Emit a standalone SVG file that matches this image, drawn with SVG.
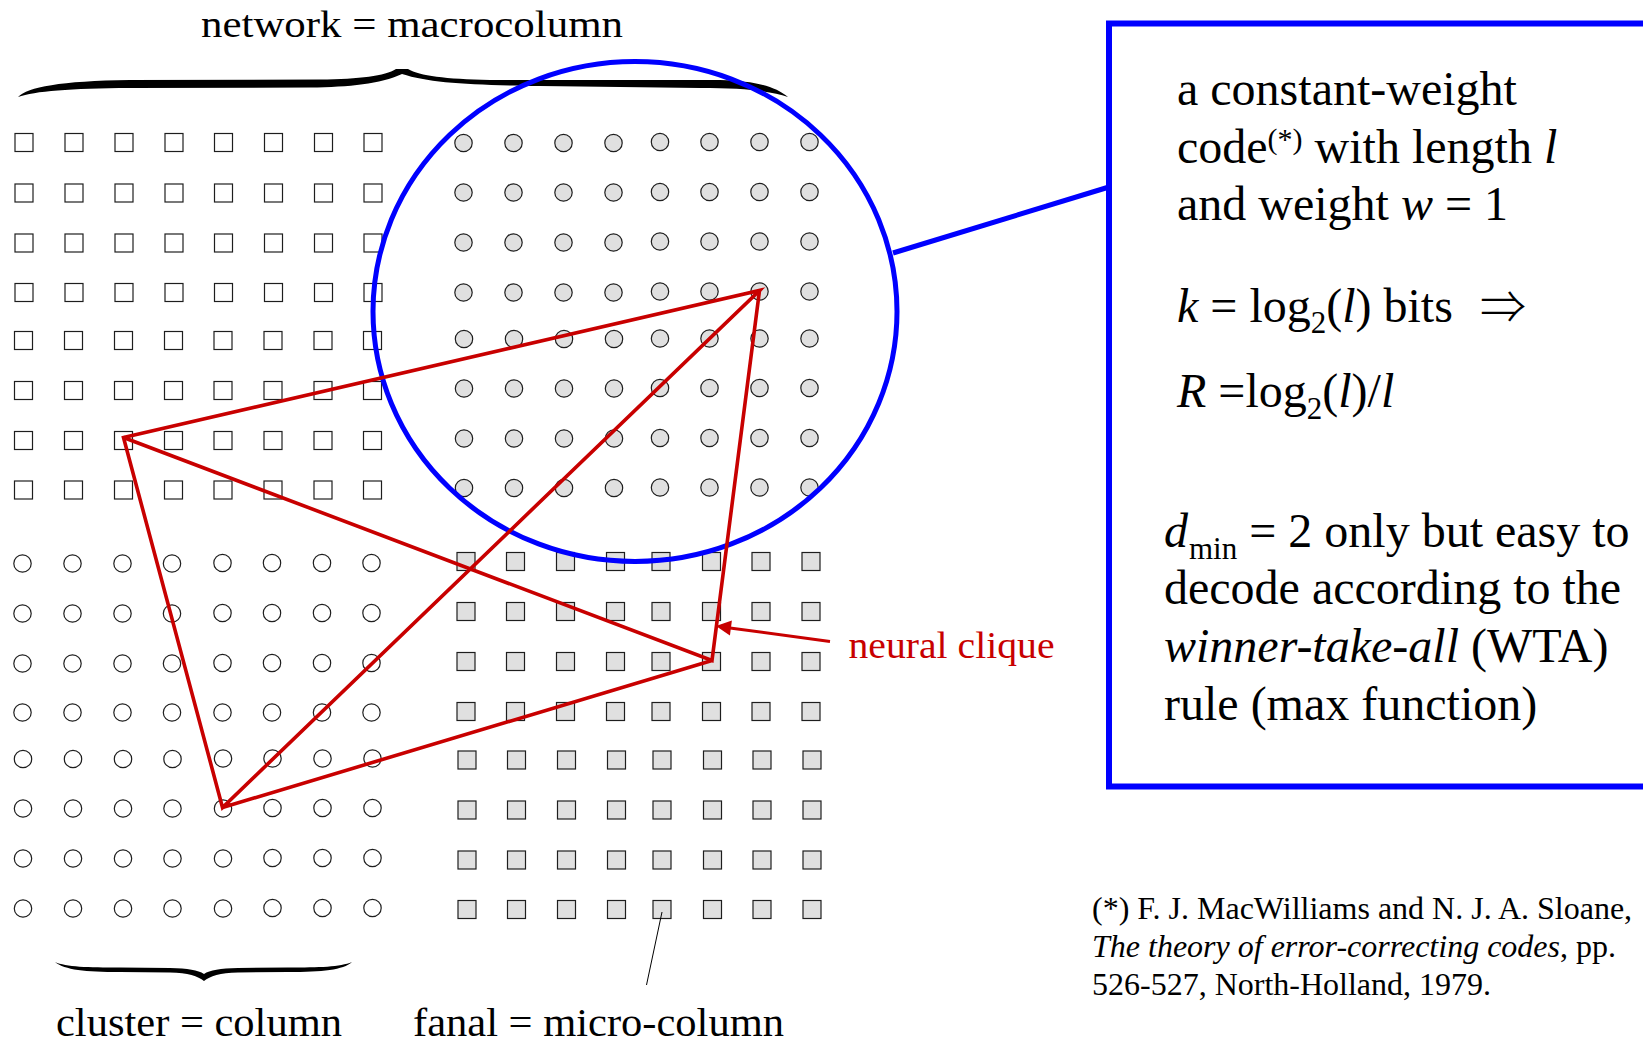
<svg xmlns="http://www.w3.org/2000/svg" width="1643" height="1042" viewBox="0 0 1643 1042">
<style>
.n{stroke:#1e1e1e;stroke-width:1.2}
.w{fill:#ffffff}
.g{fill:#e0e0e0}
.t{font-family:"Liberation Serif","Times New Roman","DejaVu Serif",serif;fill:#000}
.i{font-style:italic}
.arr{font-family:"Noto Sans CJK JP","Noto Sans CJK SC","DejaVu Sans",sans-serif;font-weight:300}
.red{fill:#c80000}
.clique{stroke:#c80000;stroke-width:3.6;fill:none;stroke-linejoin:miter}
.blue{stroke:#0000ff;fill:none}
.brace{fill:#000}
</style>
<rect x="0" y="0" width="1643" height="1042" fill="#ffffff"/>

<g id="label-network">
<text class="t" x="201" y="37" font-size="38" textLength="422" lengthAdjust="spacingAndGlyphs">network = macrocolumn</text>
<path class="brace" d="M18,97 C28,87 60,81 130,80 L320,79.5 C360,79 385,76 396,69 L408,69 C420,76 445,79 490,80 L720,80 C755,81 775,86 788,97 C770,91 745,88 700,88 L540,86 C470,85 430,83 402,74 C380,84 350,87 310,87.5 L130,88 C70,88.5 35,91 18,97 Z"/>
</g>

<g id="cluster-1">
<rect class="n w" x="15" y="133.5" width="18" height="18"/><rect class="n w" x="65" y="133.5" width="18" height="18"/><rect class="n w" x="115" y="133.5" width="18" height="18"/><rect class="n w" x="165" y="133.5" width="18" height="18"/><rect class="n w" x="214.5" y="133.5" width="18" height="18"/><rect class="n w" x="264.5" y="133.5" width="18" height="18"/><rect class="n w" x="314.5" y="133.5" width="18" height="18"/><rect class="n w" x="364" y="133.5" width="18" height="18"/>
<rect class="n w" x="15" y="184" width="18" height="18"/><rect class="n w" x="65" y="184" width="18" height="18"/><rect class="n w" x="115" y="184" width="18" height="18"/><rect class="n w" x="165" y="184" width="18" height="18"/><rect class="n w" x="214.5" y="184" width="18" height="18"/><rect class="n w" x="264.5" y="184" width="18" height="18"/><rect class="n w" x="314.5" y="184" width="18" height="18"/><rect class="n w" x="364" y="184" width="18" height="18"/>
<rect class="n w" x="15" y="234" width="18" height="18"/><rect class="n w" x="65" y="234" width="18" height="18"/><rect class="n w" x="115" y="234" width="18" height="18"/><rect class="n w" x="165" y="234" width="18" height="18"/><rect class="n w" x="214.5" y="234" width="18" height="18"/><rect class="n w" x="264.5" y="234" width="18" height="18"/><rect class="n w" x="314.5" y="234" width="18" height="18"/><rect class="n w" x="364" y="234" width="18" height="18"/>
<rect class="n w" x="15" y="283.5" width="18" height="18"/><rect class="n w" x="65" y="283.5" width="18" height="18"/><rect class="n w" x="115" y="283.5" width="18" height="18"/><rect class="n w" x="165" y="283.5" width="18" height="18"/><rect class="n w" x="214.5" y="283.5" width="18" height="18"/><rect class="n w" x="264.5" y="283.5" width="18" height="18"/><rect class="n w" x="314.5" y="283.5" width="18" height="18"/><rect class="n w" x="364" y="283.5" width="18" height="18"/>
<rect class="n w" x="14.5" y="331.5" width="18" height="18"/><rect class="n w" x="64.5" y="331.5" width="18" height="18"/><rect class="n w" x="114.5" y="331.5" width="18" height="18"/><rect class="n w" x="164.5" y="331.5" width="18" height="18"/><rect class="n w" x="214" y="331.5" width="18" height="18"/><rect class="n w" x="264" y="331.5" width="18" height="18"/><rect class="n w" x="314" y="331.5" width="18" height="18"/><rect class="n w" x="363.5" y="331.5" width="18" height="18"/>
<rect class="n w" x="14.5" y="381.5" width="18" height="18"/><rect class="n w" x="64.5" y="381.5" width="18" height="18"/><rect class="n w" x="114.5" y="381.5" width="18" height="18"/><rect class="n w" x="164.5" y="381.5" width="18" height="18"/><rect class="n w" x="214" y="381.5" width="18" height="18"/><rect class="n w" x="264" y="381.5" width="18" height="18"/><rect class="n w" x="314" y="381.5" width="18" height="18"/><rect class="n w" x="363.5" y="381.5" width="18" height="18"/>
<rect class="n w" x="14.5" y="431.5" width="18" height="18"/><rect class="n w" x="64.5" y="431.5" width="18" height="18"/><rect class="n w" x="114.5" y="431.5" width="18" height="18"/><rect class="n w" x="164.5" y="431.5" width="18" height="18"/><rect class="n w" x="214" y="431.5" width="18" height="18"/><rect class="n w" x="264" y="431.5" width="18" height="18"/><rect class="n w" x="314" y="431.5" width="18" height="18"/><rect class="n w" x="363.5" y="431.5" width="18" height="18"/>
<rect class="n w" x="14.5" y="481" width="18" height="18"/><rect class="n w" x="64.5" y="481" width="18" height="18"/><rect class="n w" x="114.5" y="481" width="18" height="18"/><rect class="n w" x="164.5" y="481" width="18" height="18"/><rect class="n w" x="214" y="481" width="18" height="18"/><rect class="n w" x="264" y="481" width="18" height="18"/><rect class="n w" x="314" y="481" width="18" height="18"/><rect class="n w" x="363.5" y="481" width="18" height="18"/>
</g>

<g id="cluster-2">
<circle class="n g" cx="463.5" cy="143" r="8.7"/><circle class="n g" cx="513.5" cy="143" r="8.7"/><circle class="n g" cx="563.5" cy="143" r="8.7"/><circle class="n g" cx="613.5" cy="143" r="8.7"/><circle class="n g" cx="660" cy="142" r="8.7"/><circle class="n g" cx="709.5" cy="142" r="8.7"/><circle class="n g" cx="759.5" cy="142" r="8.7"/><circle class="n g" cx="809.5" cy="142" r="8.7"/>
<circle class="n g" cx="463.5" cy="192.5" r="8.7"/><circle class="n g" cx="513.5" cy="192.5" r="8.7"/><circle class="n g" cx="563.5" cy="192.5" r="8.7"/><circle class="n g" cx="613.5" cy="192.5" r="8.7"/><circle class="n g" cx="660" cy="192" r="8.7"/><circle class="n g" cx="709.5" cy="192" r="8.7"/><circle class="n g" cx="759.5" cy="192" r="8.7"/><circle class="n g" cx="809.5" cy="192" r="8.7"/>
<circle class="n g" cx="463.5" cy="242.5" r="8.7"/><circle class="n g" cx="513.5" cy="242.5" r="8.7"/><circle class="n g" cx="563.5" cy="242.5" r="8.7"/><circle class="n g" cx="613.5" cy="242.5" r="8.7"/><circle class="n g" cx="660" cy="241.5" r="8.7"/><circle class="n g" cx="709.5" cy="241.5" r="8.7"/><circle class="n g" cx="759.5" cy="241.5" r="8.7"/><circle class="n g" cx="809.5" cy="241.5" r="8.7"/>
<circle class="n g" cx="463.5" cy="292.5" r="8.7"/><circle class="n g" cx="513.5" cy="292.5" r="8.7"/><circle class="n g" cx="563.5" cy="292.5" r="8.7"/><circle class="n g" cx="613.5" cy="292.5" r="8.7"/><circle class="n g" cx="660" cy="291.5" r="8.7"/><circle class="n g" cx="709.5" cy="291.5" r="8.7"/><circle class="n g" cx="759.5" cy="291.5" r="8.7"/><circle class="n g" cx="809.5" cy="291.5" r="8.7"/>
<circle class="n g" cx="464" cy="339" r="8.7"/><circle class="n g" cx="514" cy="339" r="8.7"/><circle class="n g" cx="564" cy="339" r="8.7"/><circle class="n g" cx="614" cy="339" r="8.7"/><circle class="n g" cx="660" cy="338.5" r="8.7"/><circle class="n g" cx="709.5" cy="338.5" r="8.7"/><circle class="n g" cx="759.5" cy="338.5" r="8.7"/><circle class="n g" cx="809.5" cy="338.5" r="8.7"/>
<circle class="n g" cx="464" cy="388.5" r="8.7"/><circle class="n g" cx="514" cy="388.5" r="8.7"/><circle class="n g" cx="564" cy="388.5" r="8.7"/><circle class="n g" cx="614" cy="388.5" r="8.7"/><circle class="n g" cx="660" cy="388" r="8.7"/><circle class="n g" cx="709.5" cy="388" r="8.7"/><circle class="n g" cx="759.5" cy="388" r="8.7"/><circle class="n g" cx="809.5" cy="388" r="8.7"/>
<circle class="n g" cx="464" cy="438.5" r="8.7"/><circle class="n g" cx="514" cy="438.5" r="8.7"/><circle class="n g" cx="564" cy="438.5" r="8.7"/><circle class="n g" cx="614" cy="438.5" r="8.7"/><circle class="n g" cx="660" cy="438" r="8.7"/><circle class="n g" cx="709.5" cy="438" r="8.7"/><circle class="n g" cx="759.5" cy="438" r="8.7"/><circle class="n g" cx="809.5" cy="438" r="8.7"/>
<circle class="n g" cx="464" cy="488" r="8.7"/><circle class="n g" cx="514" cy="488" r="8.7"/><circle class="n g" cx="564" cy="488" r="8.7"/><circle class="n g" cx="614" cy="488" r="8.7"/><circle class="n g" cx="660" cy="487.5" r="8.7"/><circle class="n g" cx="709.5" cy="487.5" r="8.7"/><circle class="n g" cx="759.5" cy="487.5" r="8.7"/><circle class="n g" cx="809.5" cy="487.5" r="8.7"/>
</g>

<g id="cluster-3">
<circle class="n w" cx="22.5" cy="563.5" r="8.7"/><circle class="n w" cx="72.5" cy="563.5" r="8.7"/><circle class="n w" cx="122.5" cy="563.5" r="8.7"/><circle class="n w" cx="172" cy="563.5" r="8.7"/><circle class="n w" cx="222.5" cy="563" r="8.7"/><circle class="n w" cx="272" cy="563" r="8.7"/><circle class="n w" cx="322" cy="563" r="8.7"/><circle class="n w" cx="371.5" cy="563" r="8.7"/>
<circle class="n w" cx="22.5" cy="613.5" r="8.7"/><circle class="n w" cx="72.5" cy="613.5" r="8.7"/><circle class="n w" cx="122.5" cy="613.5" r="8.7"/><circle class="n w" cx="172" cy="613.5" r="8.7"/><circle class="n w" cx="222.5" cy="613" r="8.7"/><circle class="n w" cx="272" cy="613" r="8.7"/><circle class="n w" cx="322" cy="613" r="8.7"/><circle class="n w" cx="371.5" cy="613" r="8.7"/>
<circle class="n w" cx="22.5" cy="663.5" r="8.7"/><circle class="n w" cx="72.5" cy="663.5" r="8.7"/><circle class="n w" cx="122.5" cy="663.5" r="8.7"/><circle class="n w" cx="172" cy="663.5" r="8.7"/><circle class="n w" cx="222.5" cy="663" r="8.7"/><circle class="n w" cx="272" cy="663" r="8.7"/><circle class="n w" cx="322" cy="663" r="8.7"/><circle class="n w" cx="371.5" cy="663" r="8.7"/>
<circle class="n w" cx="22.5" cy="712.5" r="8.7"/><circle class="n w" cx="72.5" cy="712.5" r="8.7"/><circle class="n w" cx="122.5" cy="712.5" r="8.7"/><circle class="n w" cx="172" cy="712.5" r="8.7"/><circle class="n w" cx="222.5" cy="712.5" r="8.7"/><circle class="n w" cx="272" cy="712.5" r="8.7"/><circle class="n w" cx="322" cy="712.5" r="8.7"/><circle class="n w" cx="371.5" cy="712.5" r="8.7"/>
<circle class="n w" cx="23" cy="759" r="8.7"/><circle class="n w" cx="73" cy="759" r="8.7"/><circle class="n w" cx="123" cy="759" r="8.7"/><circle class="n w" cx="172.5" cy="759" r="8.7"/><circle class="n w" cx="223" cy="758.5" r="8.7"/><circle class="n w" cx="272.5" cy="758.5" r="8.7"/><circle class="n w" cx="322.5" cy="758.5" r="8.7"/><circle class="n w" cx="372.5" cy="758.5" r="8.7"/>
<circle class="n w" cx="23" cy="808.5" r="8.7"/><circle class="n w" cx="73" cy="808.5" r="8.7"/><circle class="n w" cx="123" cy="808.5" r="8.7"/><circle class="n w" cx="172.5" cy="808.5" r="8.7"/><circle class="n w" cx="223" cy="808.5" r="8.7"/><circle class="n w" cx="272.5" cy="808" r="8.7"/><circle class="n w" cx="322.5" cy="808" r="8.7"/><circle class="n w" cx="372.5" cy="808" r="8.7"/>
<circle class="n w" cx="23" cy="858.5" r="8.7"/><circle class="n w" cx="73" cy="858.5" r="8.7"/><circle class="n w" cx="123" cy="858.5" r="8.7"/><circle class="n w" cx="172.5" cy="858.5" r="8.7"/><circle class="n w" cx="223" cy="858.5" r="8.7"/><circle class="n w" cx="272.5" cy="858" r="8.7"/><circle class="n w" cx="322.5" cy="858" r="8.7"/><circle class="n w" cx="372.5" cy="858" r="8.7"/>
<circle class="n w" cx="23" cy="908.5" r="8.7"/><circle class="n w" cx="73" cy="908.5" r="8.7"/><circle class="n w" cx="123" cy="908.5" r="8.7"/><circle class="n w" cx="172.5" cy="908.5" r="8.7"/><circle class="n w" cx="223" cy="908.5" r="8.7"/><circle class="n w" cx="272.5" cy="908" r="8.7"/><circle class="n w" cx="322.5" cy="908" r="8.7"/><circle class="n w" cx="372.5" cy="908" r="8.7"/>
</g>

<g id="cluster-4">
<rect class="n g" x="457" y="552.5" width="18" height="18"/><rect class="n g" x="506.5" y="552.5" width="18" height="18"/><rect class="n g" x="556.5" y="552.5" width="18" height="18"/><rect class="n g" x="606.5" y="552.5" width="18" height="18"/><rect class="n g" x="652" y="552.5" width="18" height="18"/><rect class="n g" x="702.5" y="552.5" width="18" height="18"/><rect class="n g" x="752" y="552.5" width="18" height="18"/><rect class="n g" x="802" y="552.5" width="18" height="18"/>
<rect class="n g" x="457" y="602.5" width="18" height="18"/><rect class="n g" x="506.5" y="602.5" width="18" height="18"/><rect class="n g" x="556.5" y="602.5" width="18" height="18"/><rect class="n g" x="606.5" y="602.5" width="18" height="18"/><rect class="n g" x="652" y="602.5" width="18" height="18"/><rect class="n g" x="702.5" y="602.5" width="18" height="18"/><rect class="n g" x="752" y="602.5" width="18" height="18"/><rect class="n g" x="802" y="602.5" width="18" height="18"/>
<rect class="n g" x="457" y="652.5" width="18" height="18"/><rect class="n g" x="506.5" y="652.5" width="18" height="18"/><rect class="n g" x="556.5" y="652.5" width="18" height="18"/><rect class="n g" x="606.5" y="652.5" width="18" height="18"/><rect class="n g" x="652" y="652.5" width="18" height="18"/><rect class="n g" x="702.5" y="652.5" width="18" height="18"/><rect class="n g" x="752" y="652.5" width="18" height="18"/><rect class="n g" x="802" y="652.5" width="18" height="18"/>
<rect class="n g" x="457" y="702.5" width="18" height="18"/><rect class="n g" x="506.5" y="702.5" width="18" height="18"/><rect class="n g" x="556.5" y="702.5" width="18" height="18"/><rect class="n g" x="606.5" y="702.5" width="18" height="18"/><rect class="n g" x="652" y="702.5" width="18" height="18"/><rect class="n g" x="702.5" y="702.5" width="18" height="18"/><rect class="n g" x="752" y="702.5" width="18" height="18"/><rect class="n g" x="802" y="702.5" width="18" height="18"/>
<rect class="n g" x="458" y="751" width="18" height="18"/><rect class="n g" x="507.5" y="751" width="18" height="18"/><rect class="n g" x="557.5" y="751" width="18" height="18"/><rect class="n g" x="607.5" y="751" width="18" height="18"/><rect class="n g" x="653" y="751" width="18" height="18"/><rect class="n g" x="703.5" y="751" width="18" height="18"/><rect class="n g" x="753" y="751" width="18" height="18"/><rect class="n g" x="803" y="751" width="18" height="18"/>
<rect class="n g" x="458" y="801" width="18" height="18"/><rect class="n g" x="507.5" y="801" width="18" height="18"/><rect class="n g" x="557.5" y="801" width="18" height="18"/><rect class="n g" x="607.5" y="801" width="18" height="18"/><rect class="n g" x="653" y="801" width="18" height="18"/><rect class="n g" x="703.5" y="801" width="18" height="18"/><rect class="n g" x="753" y="801" width="18" height="18"/><rect class="n g" x="803" y="801" width="18" height="18"/>
<rect class="n g" x="458" y="851" width="18" height="18"/><rect class="n g" x="507.5" y="851" width="18" height="18"/><rect class="n g" x="557.5" y="851" width="18" height="18"/><rect class="n g" x="607.5" y="851" width="18" height="18"/><rect class="n g" x="653" y="851" width="18" height="18"/><rect class="n g" x="703.5" y="851" width="18" height="18"/><rect class="n g" x="753" y="851" width="18" height="18"/><rect class="n g" x="803" y="851" width="18" height="18"/>
<rect class="n g" x="458" y="900.5" width="18" height="18"/><rect class="n g" x="507.5" y="900.5" width="18" height="18"/><rect class="n g" x="557.5" y="900.5" width="18" height="18"/><rect class="n g" x="607.5" y="900.5" width="18" height="18"/><rect class="n g" x="653" y="900.5" width="18" height="18"/><rect class="n g" x="703.5" y="900.5" width="18" height="18"/><rect class="n g" x="753" y="900.5" width="18" height="18"/><rect class="n g" x="803" y="900.5" width="18" height="18"/>
</g>

<g id="macrocolumn-zoom">
<ellipse class="blue" cx="635" cy="311.5" rx="262" ry="250" stroke-width="5"/>
</g>

<g id="code-box">
<rect class="blue" x="1109" y="23.5" width="620" height="763" stroke-width="6"/>
<text class="t" font-size="48" x="1177" y="105">a constant-weight</text>
<text class="t" font-size="48" x="1177" y="162.7">code<tspan font-size="30" dy="-14">(*)</tspan><tspan dy="14"> with length </tspan><tspan class="i">l</tspan></text>
<text class="t" font-size="48" x="1177" y="220">and weight <tspan class="i">w</tspan> = 1</text>
<text class="t" font-size="48" x="1177" y="321.7"><tspan class="i">k</tspan> = log<tspan font-size="31" dy="11">2</tspan><tspan dy="-11">(</tspan><tspan class="i">l</tspan>) bits</text>
<text class="arr" font-size="46" x="1480" y="323">⇒</text>
<text class="t" font-size="48" x="1177" y="406.7"><tspan class="i">R</tspan> =log<tspan font-size="31" dy="12">2</tspan><tspan dy="-12">(</tspan><tspan class="i">l</tspan>)/<tspan class="i">l</tspan></text>
<text class="t" font-size="48" x="1164" y="546.7"><tspan class="i">d</tspan><tspan font-size="31" dx="1" dy="12">min</tspan><tspan dy="-12"> = 2 only but easy to</tspan></text>
<text class="t" font-size="48" x="1164" y="604">decode according to the</text>
<text class="t" font-size="48" x="1164" y="662"><tspan class="i">winner-take-all</tspan> (WTA)</text>
<text class="t" font-size="48" x="1164" y="720">rule (max function)</text>
</g>

<g id="reference-note">
<text class="t" font-size="32" x="1092" y="919">(*) F. J. MacWilliams and N. J. A. Sloane,</text>
<text class="t" font-size="32" x="1092" y="957"><tspan class="i">The theory of error-correcting codes</tspan>, pp.</text>
<text class="t" font-size="32" x="1092" y="995">526-527, North-Holland, 1979.</text>
</g>

<g id="label-neural-clique">
<text class="t red" x="848.5" y="658" font-size="37" textLength="206" lengthAdjust="spacingAndGlyphs">neural clique</text>
</g>

<g id="label-cluster">
<path class="brace" d="M55,962 C65,970 85,972 120,972 L170,972.5 C188,973 198,976 204,981 C210,976 220,973 238,972.5 L288,972 C323,972 343,970 352,962 C340,967 320,967.5 288,967.5 L238,968 C220,968.5 210,970 204,974 C198,970 188,968.5 170,968 L120,967.5 C88,967.5 66,967 55,962 Z"/>
<text class="t" x="56" y="1036" font-size="40" textLength="286" lengthAdjust="spacingAndGlyphs">cluster = column</text>
</g>

<g id="label-fanal">
<text class="t" x="413" y="1036" font-size="40" textLength="371" lengthAdjust="spacingAndGlyphs">fanal = micro-column</text>
</g>

<g id="connectors">
<line class="blue" x1="893" y1="253" x2="1109" y2="187" stroke-width="5"/>
<path class="clique" d="M123.5,437.5 L759.5,290.5 L222.5,807.5 Z"/>
<path class="clique" d="M123.5,437.5 L712,660.5 L759.5,290.5 M222.5,807.5 L712,660.5"/>
<line x1="830" y1="641.5" x2="730" y2="628" stroke="#c80000" stroke-width="3"/>
<polygon points="716,626 731.9,620.6 729.9,635.4" fill="#c80000"/>
<line x1="662" y1="912" x2="646.5" y2="985" stroke="#000" stroke-width="1"/>
</g>
</svg>
